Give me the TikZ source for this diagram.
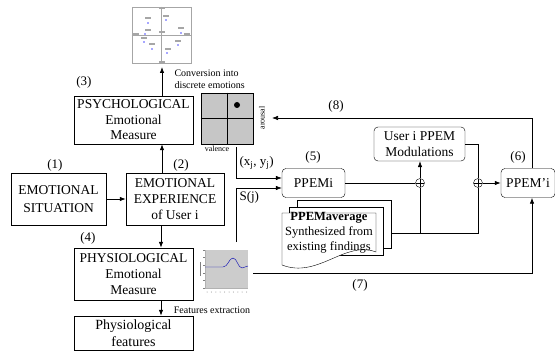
\documentclass[tikz,border=0pt]{standalone}
\usepackage{fontspec}
\setmainfont{Liberation Serif}
\usetikzlibrary{positioning,calc,arrows,arrows.meta}

\begin{document}
\begin{tikzpicture}[x=1pt,y=1pt,>={Latex[length=6pt,width=4.5pt]},
    blk/.style={draw,align=center,inner sep=1pt,font=\fontsize{13.5}{16}\selectfont},
    rblk/.style={draw,rounded corners=4pt,align=center,inner sep=1pt,font=\fontsize{13.5}{15.5}\selectfont},
    lbl/.style={font=\fontsize{13}{14}\selectfont},
    sml/.style={font=\fontsize{10}{12}\selectfont},
    tny/.style={font=\fontsize{8}{8}\selectfont},
    page/.style={draw,fill=white,minimum width=94pt,minimum height=48pt,inner sep=0pt},
    oplus/.style={circle,draw,minimum size=9pt,inner sep=0pt,
      path picture={\draw (path picture bounding box.north) -- (path picture bounding box.south)
        (path picture bounding box.west) -- (path picture bounding box.east);}}]
  \useasboundingbox (0,0) rectangle (555,-353);

  % left column
  \node[blk,minimum width=95pt,minimum height=52pt,font=\fontsize{13.5}{18}\selectfont] (sit) at (58.5,-199) {EMOTIONAL\\SITUATION};
  \node[blk,minimum width=98pt,minimum height=52pt] (exp) at (175,-199) {EMOTIONAL\\EXPERIENCE\\of User i};
  \node[blk,minimum width=119pt,minimum height=48pt,font=\fontsize{13.5}{15.5}\selectfont] (psy) at (133.5,-120) {PSYCHOLOGICAL\\Emotional\\Measure};
  \node[blk,minimum width=119pt,minimum height=52pt] (phy) at (133.5,-274) {PHYSIOLOGICAL\\Emotional\\Measure};
  \node[blk,minimum width=119pt,minimum height=34pt,font=\fontsize{14}{17}\selectfont] (feat) at (133.5,-333) {Physiological\\features};

  \node[lbl] (n1) at (55,-165) {(1)};
  \node[lbl] (n2) at (181,-165) {(2)};
  \node[lbl] (n3) at (84,-82) {(3)};
  \node[lbl] (n4) at (88,-238) {(4)};

  % emotion map (top)
  \node[draw=gray!70,thick,minimum width=59pt,minimum height=56pt,inner sep=0pt] (chart) at (161.5,-35) {};
  \draw[gray!70,thick] (chart.north) -- (chart.south) (chart.west) -- (chart.east);
  \foreach \x/\y in {148/-18,166/-16,181/-28,148/-30,144/-38,152/-44,168/-49,178/-41,162/-8,162/-62,162/-32,136/-34,187/-34}
    \fill[black!35] (\x-3,\y-0.6) rectangle (\x+3,\y+0.6);
  \foreach \x/\y in {148/-23,166/-20,181/-33,145/-34,144/-42,152/-49,167/-53,178/-45}
    \fill[blue!70] (\x,\y) circle (0.9);
  \coordinate (convtip) at (162,-67);
  \node[sml,align=left,anchor=west] (conv) at (171,-79) {Conversion into\\discrete emotions};

  % valence/arousal grid
  \node[draw,thick,fill=gray!45,minimum width=52pt,minimum height=51pt,inner sep=0pt] (grid) at (227,-118.5) {};
  \draw[thick] (grid.north) -- (grid.south) (grid.west) -- (grid.east);
  \fill (237,-105) circle (3);
  \node[tny] (val) at (217,-148.5) {valence};
  \node[tny,rotate=90] (aro) at (262,-118) {arousal};

  % signal plot
  \node[minimum width=54pt,minimum height=50pt,inner sep=0pt] (plot) at (226,-273) {};
  \fill[gray!40] (205,-250) rectangle (248,-288);
  \draw[gray!60] (205,-250) -- (205,-288) -- (248,-288);
  \foreach \t in {0,...,5} \draw[gray] (203,-250-7.6*\t) -- (205,-250-7.6*\t);
  \foreach \t in {0,...,9} \fill[gray] (207+4.4*\t,-292) circle (0.5);
  \fill[gray] (199.5,-262) rectangle (200.5,-276);
  \draw[blue!70!black] (205,-267) -- (223,-267) .. controls (228,-267) and (229,-258) .. (233,-258)
    .. controls (237,-258) and (238,-268) .. (242,-268) -- (248,-266);
  \node[sml] (fx) at (212,-310) {Features extraction};

  % right part
  \node[rblk,minimum width=63pt,minimum height=29pt] (ppemi) at (313.5,-183) {PPEMi};
  \node[rblk,minimum width=91pt,minimum height=34pt] (mod) at (419.5,-144) {User i PPEM\\Modulations};
  \node[rblk,minimum width=54pt,minimum height=29pt] (ppemp) at (528,-183) {PPEM’i};
  \node[oplus] (c1) at (420,-183) {};
  \node[oplus] (c2) at (478,-183) {};
  \node[lbl] (n5) at (313,-157) {(5)};
  \node[lbl] (n6) at (518,-157) {(6)};
  \node[lbl] (n7) at (360,-285) {(7)};
  \node[lbl] (n8) at (336,-106) {(8)};

  % stacked documents
  \node[page] (avg3) at (344,-224) {};
  \node[page] (avg2) at (336,-231) {};
  \draw[fill=white] (282,-213) -- (376,-213) -- (376,-252) .. controls (345,-240) and (318,-279) .. (282,-265) -- cycle;
  \node[align=center,font=\fontsize{12.5}{15}\selectfont] (avg) at (329,-233) {\textbf{PPEMaverage}\\Synthesized from\\existing findings};

  \coordinate (xy0) at (236,-147);
  \coordinate (s0) at (236,-242);
  \coordinate (j1) at (420,-233);
  \coordinate (j2) at (478,-233);
  \coordinate (fb) at (272,-118);
  \node[lbl,anchor=west] (xylbl) at (236,-163) {(x\textsubscript{j}, y\textsubscript{j})};
  \node[lbl,anchor=west] (slbl) at (236,-197) {S(j)};

  % connectors
  \draw[->,thick] (sit) -- (exp);
  \draw[->,thick] ([xshift=-13pt]exp.north) -- ([xshift=-13pt]exp.north |- psy.south);
  \draw[->,thick] ([xshift=-14pt]exp.south) -- ([xshift=-14pt]exp.south |- phy.north);
  \draw[->,thick] ([xshift=27.5pt]phy.south) -- ([xshift=27.5pt]phy.south |- feat.north);
  \draw[->,thick] ([xshift=28.5pt]psy.north) -- (convtip);
  \draw[->,semithick] (xy0) |- ([yshift=5pt]ppemi.west);
  \draw[->,semithick] (s0) |- ([yshift=-5pt]ppemi.west);
  \draw[semithick] (ppemi.east) -- (c1.west);
  \draw[->,semithick] (c1.north) -- (c1.north |- mod.south);
  \draw[thick] (avg3.east |- j1) -- (j1);
  \draw[semithick] (j1) -- (c1.south);
  \draw[semithick] (j1) -- (j2) -- (c2.south);
  \draw[semithick] (mod.east) -| (c2.north);
  \draw[->,thick] (c2.east) -- (ppemp.west);
  \draw[->,semithick] ([xshift=4pt]ppemp.north) |- (fb);
  \draw[->,thick] (plot.east) -| ([xshift=4pt]ppemp.south);
\end{tikzpicture}
\end{document}
